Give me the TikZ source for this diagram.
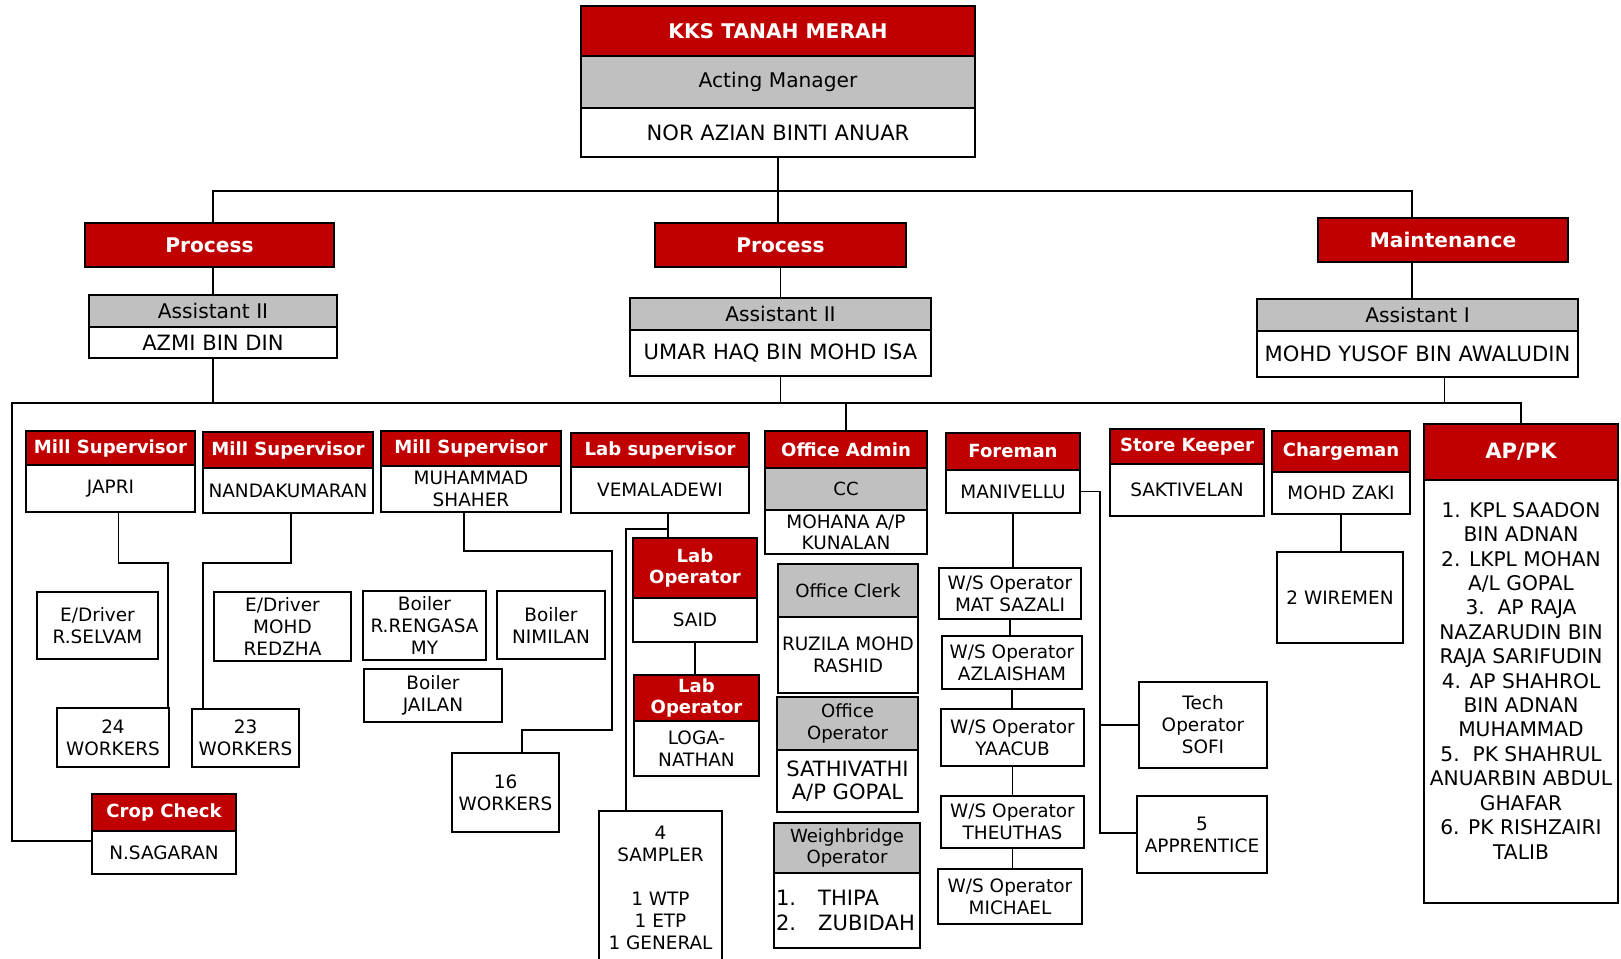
\documentclass[tikz,border=0pt]{standalone}
\usepackage{fontspec}
\setmainfont{DejaVu Sans}
\usetikzlibrary{calc}
\definecolor[named]{KKSRed}{RGB}{192,0,0}
\definecolor[named]{KKSGray}{RGB}{192,192,192}
\newcommand{\fsz}[2]{\fontsize{#1}{#2}\selectfont}
\newcommand{\pxu}{0.02cm}
% style, name, x1, y1, x2, y2, text
\newcommand{\cell}[7]{%
  \node[#1,minimum width={(#5-#3)*\pxu},minimum height={(#6-#4)*\pxu}]
    (#2) at ({(#3+#5)/2},{(#4+#6)/2}) {#7};
}
\tikzset{
  cellbox/.style={draw,line width=1pt,inner sep=0pt,align=center},
  headcell/.style={cellbox,fill=KKSRed,text=white,font=\bfseries\fsz{10.3}{12}},
  tophead/.style={headcell,font=\bfseries\fsz{11.5}{14}},
  rolecell/.style={cellbox,fill=KKSGray,font=\fsz{10.3}{12}},
  toprole/.style={rolecell,font=\fsz{11.5}{14}},
  whocell/.style={cellbox,fill=white,font=\fsz{10.5}{12.5}},
  topwho/.style={whocell,font=\fsz{12}{14}},
  conn/.style={line width=0.8pt},
}

\begin{document}
\begin{tikzpicture}[x=\pxu,y=-\pxu]
  \path[fill=white,use as bounding box] (0,0) rectangle (1621,958);

  % manager
  \cell{tophead}{kks}{581}{6}{975}{56}{KKS TANAH MERAH}
  \cell{toprole}{mgrr}{581}{56}{975}{108}{Acting Manager}
  \cell{topwho}{mgrn}{581}{108}{975}{157}{NOR AZIAN BINTI ANUAR}

  % assistants
  \cell{tophead}{proc1}{85}{223}{334}{267}{Process}
  \cell{toprole}{a1r}{89}{295}{337}{327}{Assistant II}
  \cell{topwho}{a1n}{89}{327}{337}{358}{AZMI BIN DIN}
  \cell{tophead}{proc2}{655}{223}{906}{267}{Process}
  \cell{toprole}{a2r}{630}{298}{931}{330}{Assistant II}
  \cell{topwho}{a2n}{630}{330}{931}{376}{UMAR HAQ BIN MOHD ISA}
  \cell{tophead}{maint}{1318}{218}{1568}{262}{Maintenance}
  \cell{toprole}{a3r}{1257}{299}{1578}{331}{Assistant I}
  \cell{topwho}{a3n}{1257}{331}{1578}{377}{MOHD YUSOF BIN AWALUDIN}

  % supervisors
  \cell{headcell}{ms1h}{26}{431}{195}{465}{Mill Supervisor}
  \cell{whocell}{ms1n}{26}{465}{195}{512}{JAPRI}
  \cell{headcell}{ms2h}{203}{432}{373}{468}{Mill Supervisor}
  \cell{whocell}{ms2n}{203}{468}{373}{513}{NANDAKUMARAN}
  \cell{headcell}{ms3h}{381}{431}{561}{466}{Mill Supervisor}
  \cell{whocell}{ms3n}{381}{466}{561}{512}{MUHAMMAD\\SHAHER}
  \cell{headcell}{lsh}{571}{433}{749}{467}{Lab supervisor}
  \cell{whocell}{lsn}{571}{467}{749}{513}{VEMALADEWI}
  \cell{headcell}{oah}{765}{431}{927}{468}{Office Admin}
  \cell{rolecell}{oar}{765}{468}{927}{510}{CC}
  \cell{whocell,font=\fsz{10.5}{12}}{oan}{765}{510}{927}{554}{MOHANA A/P\\KUNALAN}
  \cell{headcell}{fmh}{946}{433}{1080}{470}{Foreman}
  \cell{whocell}{fmn}{946}{470}{1080}{513}{MANIVELLU}
  \cell{headcell}{skh}{1110}{429}{1264}{464}{Store Keeper}
  \cell{whocell}{skn}{1110}{464}{1264}{516}{SAKTIVELAN}
  \cell{headcell}{cgh}{1272}{431}{1410}{472}{Chargeman}
  \cell{whocell}{cgn}{1272}{472}{1410}{514}{MOHD ZAKI}
  \cell{headcell,font=\bfseries\fsz{12}{14}}{aph}{1424}{424}{1618}{480}{AP/PK}
  \cell{whocell,font=\fsz{11.5}{13.9}}{apn}{1424}{480}{1618}{903}{%
    1. KPL SAADON\\BIN ADNAN\\2. LKPL MOHAN\\A/L GOPAL\\3.\ \ AP RAJA\\
    NAZARUDIN BIN\\RAJA SARIFUDIN\\4. AP SHAHROL\\BIN ADNAN\\MUHAMMAD\\
    5.\ \ PK SHAHRUL\\ANUARBIN ABDUL\\GHAFAR\\6. PK RISHZAIRI\\TALIB\\[-1.5pt]}

  % mill staff
  \cell{whocell}{drv1}{37}{592}{158}{659}{E/Driver\\R.SELVAM}
  \cell{whocell}{drv2}{214}{592}{351}{661}{E/Driver\\MOHD\\REDZHA}
  \cell{whocell}{blr1}{363}{591}{486}{660}{Boiler\\R.RENGASA\\MY}
  \cell{whocell}{blr2}{497}{591}{605}{659}{Boiler\\NIMILAN}
  \cell{whocell}{blr3}{364}{669}{502}{722}{Boiler\\JAILAN}
  \cell{whocell}{w24}{57}{708}{169}{767}{24\\WORKERS}
  \cell{whocell}{w23}{192}{709}{299}{767}{23\\WORKERS}
  \cell{whocell}{w16}{452}{753}{559}{832}{16\\WORKERS}
  \cell{headcell}{croph}{92}{794}{236}{831}{Crop Check}
  \cell{whocell}{cropn}{92}{831}{236}{874}{N.SAGARAN}

  % lab
  \cell{headcell}{lop1h}{633}{538}{757}{598}{Lab\\Operator}
  \cell{whocell}{lop1n}{633}{598}{757}{642}{SAID}
  \cell{headcell,font=\bfseries\fsz{10.3}{11.5}}{lop2h}{634}{675}{759}{721}{Lab\\Operator}
  \cell{whocell}{lop2n}{634}{721}{759}{776}{LOGA-\\NATHAN}
  \cell{whocell}{samp}{599}{811}{722}{965}{4\\SAMPLER\\[12.5pt]1 WTP\\1 ETP\\1 GENERAL}

  % office
  \cell{rolecell}{ocr}{778}{564}{918}{617}{Office Clerk}
  \cell{whocell}{ocn}{778}{617}{918}{693}{RUZILA MOHD\\RASHID}
  \cell{rolecell}{oor}{777}{697}{918}{750}{Office\\Operator}
  \cell{whocell,font=\fsz{12}{13.5}}{oon}{777}{750}{918}{812}{SATHIVATHI\\A/P GOPAL}
  \cell{rolecell}{wbr}{774}{823}{920}{873}{Weighbridge\\Operator}
  \cell{whocell,font=\fsz{12}{14},align=left,text width=2.84cm}{wbn}{774}{873}{920}{948}{%
    \makebox[24pt][l]{1.}THIPA\\\makebox[24pt][l]{2.}ZUBIDAH}

  % workshop
  \cell{whocell}{ws1}{939}{568}{1081}{619}{W/S Operator\\MAT SAZALI}
  \cell{whocell}{ws2}{942}{636}{1082}{689}{W/S Operator\\AZLAISHAM}
  \cell{whocell}{ws3}{941}{709}{1084}{766}{W/S Operator\\YAACUB}
  \cell{whocell}{ws4}{941}{796}{1084}{848}{W/S Operator\\THEUTHAS}
  \cell{whocell}{ws5}{938}{869}{1082}{924}{W/S Operator\\MICHAEL}
  \cell{whocell}{tech}{1139}{682}{1267}{768}{Tech\\Operator\\SOFI}
  \cell{whocell}{appr}{1137}{796}{1267}{873}{5\\APPRENTICE}
  \cell{whocell}{wire}{1277}{552}{1403}{643}{2 WIREMEN}

  % connectors
  \coordinate (bus1) at (0,191);
  \coordinate (bus2) at (12,403);
  \coordinate (mtop) at (1412,191);
  \draw[conn] (mgrn.south) -- (mgrn.south |- bus1);
  \draw[conn] (a1r.north |- proc1.north) |- (mtop) -- (mtop |- maint.north);
  \draw[conn] (mgrn.south |- proc2.north) -- (mgrn.south |- bus1);
  \draw[conn] (a1r.north) -- (a1r.north |- proc1.south);
  \draw[conn] (a2r.north) -- (a2r.north |- proc2.south);
  \draw[conn] (mtop |- a3r.north) -- (mtop |- maint.south);
  \draw[conn] (a1n.south) -- (a1n.south |- bus2);
  \draw[conn] (a2n.south) -- (a2n.south |- bus2);
  \coordinate (a3drop) at ($(a3n.south)+(27,0)$);
  \draw[conn] (a3drop) -- (a3drop |- bus2);
  \coordinate (cropin) at ($(cropn.north west)+(0,11)$);
  \draw[conn] (cropin) -| (bus2) -- (aph.north |- bus2) -- (aph.north);
  \draw[conn] (oah.north) -- (oah.north |- bus2);

  \coordinate (e1) at (168,563);
  \draw[conn] ($(ms1n.south)+(8,0)$) |- (e1) -- (e1 |- w24.north);
  \coordinate (e2) at (203,563);
  \draw[conn] ($(ms2n.south)+(3,0)$) |- (e2) -- (e2 |- w23.north);
  \coordinate (e3) at (612,551);
  \coordinate (e4) at (522,730);
  \draw[conn] ($(ms3n.south)+(-7,0)$) |- (e3) |- (e4) -- (e4 |- w16.north);
  \coordinate (e5) at (626,529);
  \coordinate (e6) at (668,529);
  \draw[conn] (e6 |- lsn.south) -- (e6 |- lop1h.north);
  \draw[conn] (e6) -- (e5) -- (e5 |- samp.north);
  \draw[conn] (lop1n.south) -- (lop1n.south |- lop2h.north);

  \draw[conn] (fmn.south) -- (fmn.south |- ws1.north);
  \foreach \a/\b in {ws1/ws2,ws2/ws3,ws3/ws4,ws4/ws5}
    \draw[conn] (\a.south) -- (\a.south |- \b.north);
  \coordinate (e7) at (1100,833);
  \draw[conn] (fmn.east) -| (e7) -- (e7 -| appr.west);
  \draw[conn] (e7 |- tech.west) -- (tech.west);
  \draw[conn] (cgn.south) -- (cgn.south |- wire.north);
\end{tikzpicture}
\end{document}
